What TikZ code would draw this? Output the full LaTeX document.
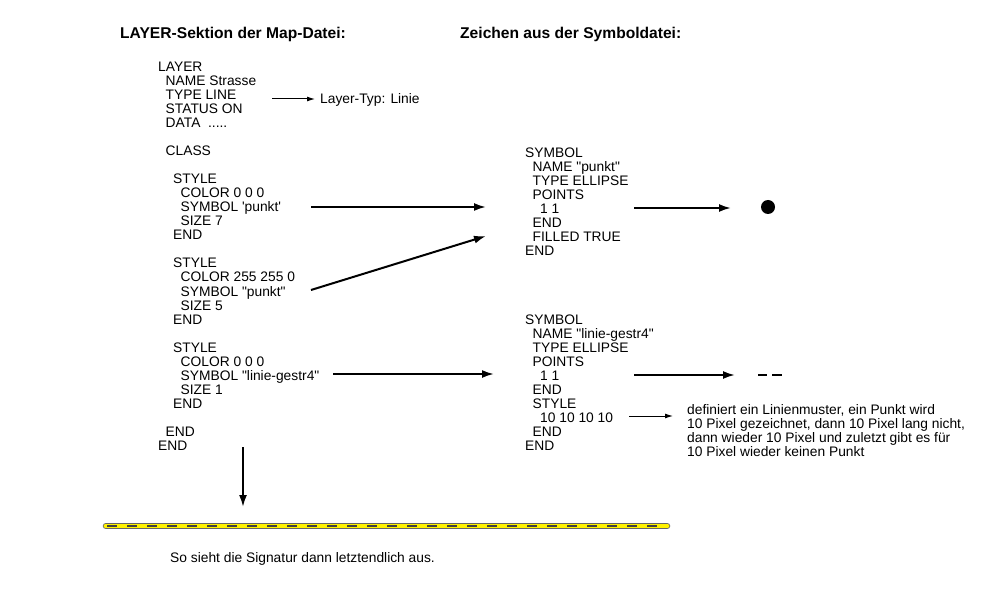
\documentclass[tikz,border=0pt]{standalone}
\usepackage{fontspec}
\newfontfamily\arial{Liberation Sans}
\usepackage{tikz}
\usetikzlibrary{arrows.meta}
\tikzset{
  code/.style={anchor=base west, inner sep=0pt, font=\arial\fontsize{13.8}{14}\selectfont},
  heading/.style={code, font=\arial\bfseries\fontsize{15.6}{16}\selectfont},
  bigarrow/.style={line width=2pt, -{Latex[length=12pt, width=8pt]}},
  thinarrow/.style={line width=1pt, -{Latex[length=8pt, width=5pt]}}
}

\begin{document}
\begin{tikzpicture}[x=1pt, y=-1pt]
    \useasboundingbox (0,0) rectangle (1000,601);
    \def\indLen{7.5}
    \def\rowLen{14}

    % headings
    \node [heading] (headLayer) at (120,39) {LAYER-Sektion der Map-Datei:};
    \node [heading] (headSymbol) at (460,39) {Zeichen aus der Symboldatei:};

    % LAYER section
    \foreach \ind/\row/\txt in {0/0/LAYER, 1/1/NAME Strasse, 1/2/TYPE LINE,
      1/3/STATUS ON, 1/4/{DATA \ .....}, 1/6/CLASS,
      2/8/STYLE, 3/9/COLOR 0 0 0, 3/10/SYMBOL 'punkt', 3/11/SIZE 7, 2/12/END,
      2/14/STYLE, 3/15/COLOR 255 255 0, 3/16/SYMBOL "punkt", 3/17/SIZE 5, 2/18/END,
      2/20/STYLE, 3/21/COLOR 0 0 0, 3/22/SYMBOL "linie-gestr4", 3/23/SIZE 1, 2/24/END,
      1/26/END, 0/27/END}
      \node [code] (lay-\row) at (158+\ind*\indLen, 72+\row*\rowLen) {\txt};

    % symbol "punkt"
    \foreach \ind/\row/\txt in {0/0/SYMBOL, 1/1/NAME "punkt", 1/2/TYPE ELLIPSE,
      1/3/POINTS, 2/4/1 1, 1/5/END, 1/6/FILLED TRUE, 0/7/END}
      \node [code] (punkt-\row) at (525+\ind*\indLen, 158+\row*\rowLen) {\txt};

    % symbol "linie-gestr4"
    \foreach \ind/\row/\txt in {0/0/SYMBOL, 1/1/NAME "linie-gestr4", 1/2/TYPE ELLIPSE,
      1/3/POINTS, 2/4/1 1, 1/5/END, 1/6/STYLE, 2/7/10 10 10 10, 1/8/END, 0/9/END}
      \node [code] (gestr-\row) at (525+\ind*\indLen, 324+\row*\rowLen) {\txt};

    % remarks
    \node [code] (typeNote) at (320,104) {Layer-Typ: Linie};
    \foreach \row/\txt in {0/{definiert ein Linienmuster, ein Punkt wird},
      1/{10 Pixel gezeichnet, dann 10 Pixel lang nicht,},
      2/{dann wieder 10 Pixel und zuletzt gibt es f\"ur},
      3/{10 Pixel wieder keinen Punkt}}
      \node [code] (patNote-\row) at (687,414+\row*\rowLen) {\txt};
    \node [code] (resultNote) at (170,562) {So sieht die Signatur dann letztendlich aus.};

    % arrow ends
    \coordinate (typeFrom) at (272,99);
    \coordinate (typeTo) at (315,99);
    \coordinate (styleA) at (311,207);
    \coordinate (styleB) at (311,290);
    \coordinate (styleC) at (333,374);
    \coordinate (punktIn) at (486,207);
    \coordinate (punktIn2) at (486,236);
    \coordinate (gestrIn) at (494,374);
    \coordinate (punktOut) at (634,208);
    \coordinate (punktEnd) at (731,208);
    \coordinate (gestrOut) at (634,375);
    \coordinate (gestrEnd) at (735,375);
    \coordinate (patFrom) at (629,416);
    \coordinate (patTo) at (673,416);
    \coordinate (endFrom) at (243,447);
    \coordinate (endTo) at (243,507);

    \draw [thinarrow] (typeFrom) -- (typeTo);
    \draw [bigarrow] (styleA) -- (punktIn);
    \draw [bigarrow] (styleB) -- (punktIn2);
    \draw [bigarrow] (styleC) -- (gestrIn);
    \draw [bigarrow] (punktOut) -- (punktEnd);
    \draw [bigarrow] (gestrOut) -- (gestrEnd);
    \draw [thinarrow] (patFrom) -- (patTo);
    \draw [bigarrow] (endFrom) -- (endTo);

    % drawn symbols
    \fill (768,207) circle [radius=7];
    \draw [line width=1.1pt] (758,375) -- +(9,0) (772,375) -- +(10,0);

    % resulting signature
    \draw [line width=6.5pt, line cap=round, black!60] (106,526) -- (667,526);
    \draw [line width=4.8pt, line cap=round, yellow] (106,526) -- (667,526);
    \draw [line width=1.2pt, black!75, dash pattern=on 10pt off 10pt] (107,526) -- (666,526);
  \end{tikzpicture}
\end{document}
